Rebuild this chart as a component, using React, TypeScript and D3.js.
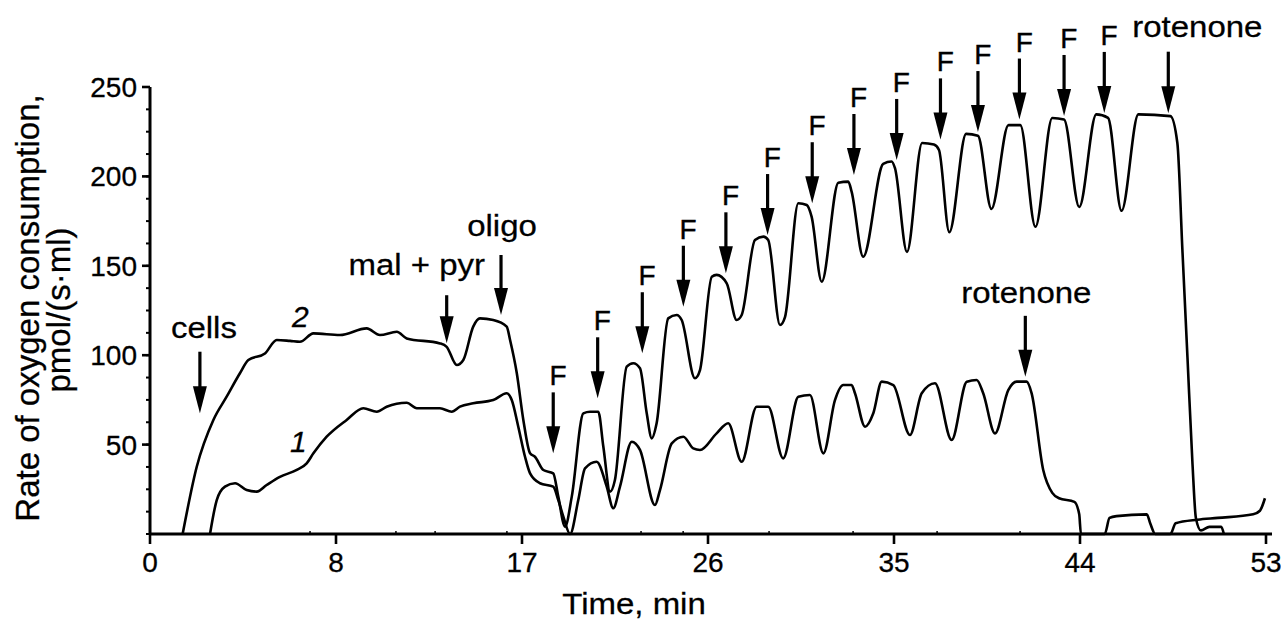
import React from "react";
import * as d3 from "d3";

// ---------- data ----------
const xTickLabels = ["0", "8", "17", "26", "35", "44", "53"];
const xMinorTicks = [7.6, 11.68, 13.54, 16.95, 23.32, 25.32, 29.4, 33.39, 37.38, 41.32];
const yTickValues = [50, 100, 150, 200, 250];

// trace 2 (upper) : [time, rate]
const trace2: [number, number][] = [
  [1.55, 0], [2.22, 37.6], [3.01, 63.8], [3.64, 76.8], [4.27, 89.9], [4.67, 97.3], [5.46, 101],
  [6.02, 108.5], [6.65, 108], [7.12, 107.5], [7.76, 112.2], [9.02, 111.3], [10.29, 115], [10.92, 111.3],
  [11.72, 113.1], [12.19, 109.4], [13.77, 106.6], [14.09, 104.7], [14.57, 94.5], [14.88, 97.3],
  [15.35, 116], [15.67, 120.6], [16.3, 119.7], [16.94, 116], [17.1, 108.5], [17.42, 89.9], [17.73, 63.8],
  [18.05, 45.1], [18.28, 43.2], [18.68, 35.8], [19.15, 33.9], [19.39, 20.9], [19.71, 4.1], [20.03, 20.9],
  [20.58, 67.5], [20.9, 68.4], [21.29, 68.4], [21.53, 48.8], [21.85, 23.7], [22.08, 30.2],
  [22.64, 93.6], [22.95, 95.5], [23.27, 92.7], [23.59, 67.5], [23.83, 53.5], [24.06, 61.9],
  [24.61, 120.6], [25.01, 122.5], [25.25, 119.7], [25.88, 87.1], [26.12, 91.7],
  [26.68, 143.9], [26.91, 144.9], [27.39, 140.2], [27.86, 119.7], [28.1, 122.5],
  [28.73, 164.4], [29.13, 166.3], [29.36, 164.4], [29.92, 116.9], [30.16, 121.5],
  [30.79, 185], [31.19, 184], [31.42, 177.5], [31.9, 141.1],
  [32.69, 196.5], [33.16, 197.1], [33.32, 191.5], [33.87, 155.1],
  [34.82, 207], [35.22, 208.3], [35.38, 204.6], [35.95, 157.8],
  [36.67, 218.7], [37.23, 217.8], [37.47, 214.8], [37.96, 168.8],
  [38.76, 223.8], [39.32, 222.8], [39.96, 181.8],
  [40.77, 228.7], [41.33, 228.7], [42.05, 171.8],
  [42.85, 232.7], [43.41, 231.8], [44.13, 182.9],
  [44.94, 234.7], [45.5, 232.7], [46.14, 180.8],
  [46.94, 234.7], [48.46, 233.7], [48.79, 218.7], [49.03, 158.8], [49.27, 98.9], [49.51, 39],
  [49.67, 9], [49.91, 2], [50.31, 4], [50.87, 4], [51.0, 0],
];

// trace 1 (lower) : [time, rate]
const trace1: [number, number][] = [
  [2.85, 0], [3.17, 19], [3.56, 26.5], [4.04, 28.4], [4.59, 24.6], [5.07, 23.7], [5.54, 27.4],
  [6.17, 32], [6.97, 35.8], [7.44, 39.5], [7.76, 45.1], [8.39, 54.4], [9.34, 63.8], [10.13, 70.3],
  [10.77, 68.4], [11.24, 71.2], [12.19, 73.4], [12.67, 70.3], [13.77, 70.3], [14.33, 68.4],
  [14.72, 71.2], [15.35, 73.1], [16.3, 74.9], [16.94, 78.7], [17.18, 74.9], [17.49, 60],
  [17.81, 43.2], [18.05, 33.9], [18.52, 28.4], [19.15, 26.5], [19.39, 19], [19.63, 9.7], [19.95, 0],
  [20.34, 19], [20.66, 36.7], [21.21, 40.4], [21.69, 26.5], [22.0, 14.4], [22.32, 26.5],
  [22.88, 51.6], [23.27, 47], [23.98, 16.2], [24.22, 24.6], [24.78, 50.7], [25.33, 54.4],
  [25.8, 47.9], [26.12, 47], [26.91, 56.3], [27.46, 61.9], [28.1, 40.4], [28.81, 71.2],
  [29.36, 71.2], [30.07, 42.3], [30.79, 76.8], [31.34, 77.7], [31.98, 45.1], [32.53, 74.9],
  [32.92, 83.3], [33.32, 83.3], [33.48, 78.7], [33.96, 60], [34.35, 67.5], [34.75, 85.2],
  [35.3, 83.3], [36.09, 55.4], [36.65, 78.7], [37.28, 84.3], [38.07, 52.6], [38.79, 85.2],
  [39.26, 86.1], [39.57, 78.7], [40.13, 56.3], [40.76, 80.5], [41.16, 85.2], [41.63, 85.2],
  [41.87, 78.7], [42.42, 35.8], [42.85, 23], [43.17, 20], [43.9, 18], [44.13, 11], [44.21, 0],
  [45.34, 0], [45.57, 9], [45.9, 10], [47.34, 11], [47.5, 6], [47.74, 0], [48.46, 0],
  [48.71, 6], [49.75, 8], [50.71, 9], [52.39, 11], [52.71, 13], [52.95, 20],
];

// FCCP additions: time and value at the arrow tip
const fArrowTimes = [19.15, 21.26, 23.38, 25.33, 27.35, 29.33, 31.45, 33.43, 35.46, 37.54, 39.32, 41.29, 43.41, 45.32];
const fArrowTips = [45.1, 75.9, 101.1, 127.1, 145.8, 167.2, 185, 200.8, 209.2, 220.7, 224.8, 231.8, 233.8, 235.5];

// named additions
const namedLabels = ["cells", "mal + pyr", "oligo", "rotenone", "rotenone"];
const namedTimes = [2.37, 14.09, 16.67, 41.57, 48.36];
const namedTips = [67.5, 106.7, 122.5, 87.9, 235.3];
const curveLabels = ["2", "1"];

// ---------- layout ----------
const W = 1281;
const H = 621;
const FONT = "'Liberation Sans', Arial, Helvetica, sans-serif";

const x = d3.scaleLinear().domain([0, 53]).range([150, 1266]);
const y = d3.scaleLinear().domain([0, 250]).range([534, 87]);

const line = d3
  .line<[number, number]>()
  .x((d) => x(d[0]))
  .y((d) => y(d[1]))
  .curve(d3.curveMonotoneX);

// per-label layout for named arrows: [arrow length, label dx, label gap above arrow top]
const namedLayout = [
  [61.6, 4, 14],
  [48, -30, 20],
  [60, 1, 19],
  [61, 1, 12.4],
  [61.6, 29, 15],
];

function Arrow({ cx, tipY, len }: { cx: number; tipY: number; len: number }) {
  const headH = 27;
  const headW = 7;
  return (
    <g>
      <line x1={cx} x2={cx} y1={tipY - len} y2={tipY - headH + 2} stroke="#000" strokeWidth={3.2} />
      <path d={`M${cx - headW},${tipY - headH} L${cx + headW},${tipY - headH} L${cx},${tipY} Z`} fill="#000" />
    </g>
  );
}

function Word({ tx, ty, text }: { tx: number; ty: number; text: string }) {
  return (
    <text
      transform={`translate(${tx},${ty}) scale(1,0.88)`}
      textAnchor="middle"
      fontFamily={FONT}
      fontSize={33}
      fill="#000"
      stroke="#000"
      strokeWidth={0.3}
    >
      {text}
    </text>
  );
}

export default function App() {
  const majorTicks = xTickLabels.map((_, i) => (i * 53) / (xTickLabels.length - 1));
  const yMinor = d3.range(0, 250.001, 12.5);
  return (
    <div style={{ position: "fixed", left: 0, top: 0 }}>
      <svg width={W} height={H} viewBox={`0 0 ${W} ${H}`} style={{ display: "block", background: "#fff" }}>
        <rect x={0} y={0} width={W} height={H} fill="#fff" />

        {/* traces */}
        <path d={line(trace2) || ""} fill="none" stroke="#000" strokeWidth={2.6} strokeLinejoin="round" />
        <path d={line(trace1) || ""} fill="none" stroke="#000" strokeWidth={2.6} strokeLinejoin="round" />

        {/* axes */}
        <line x1={x(0)} x2={1272} y1={y(0)} y2={y(0)} stroke="#000" strokeWidth={3} />
        <line x1={x(0)} x2={x(0)} y1={y(0)} y2={y(250)} stroke="#000" strokeWidth={3} />
        {majorTicks.map((t, i) => (
          <g key={"xt" + i}>
            <line x1={x(t)} x2={x(t)} y1={y(0)} y2={y(0) + 10} stroke="#000" strokeWidth={2.6} />
            <text x={x(t)} y={y(0) + 38} textAnchor="middle" fontFamily={FONT} fontSize={28} fill="#000" stroke="#000" strokeWidth={0.3}>
              {xTickLabels[i]}
            </text>
          </g>
        ))}
        {xMinorTicks.map((t, i) => (
          <line key={"xm" + i} x1={x(t)} x2={x(t)} y1={y(0)} y2={y(0) - 3} stroke="#000" strokeWidth={1.5} />
        ))}
        {yMinor.map((v, i) => (
          <line key={"ym" + i} x1={x(0) - 4} x2={x(0)} y1={y(v)} y2={y(v)} stroke="#000" strokeWidth={2} />
        ))}
        {yTickValues.map((v) => (
          <g key={"yt" + v}>
            <line x1={x(0) - 8} x2={x(0)} y1={y(v)} y2={y(v)} stroke="#000" strokeWidth={2.6} />
            <text x={137} y={y(v) + 10} textAnchor="end" fontFamily={FONT} fontSize={28} fill="#000" stroke="#000" strokeWidth={0.3}>
              {v}
            </text>
          </g>
        ))}

        {/* axis titles */}
        <Word tx={634} ty={614} text="Time, min" />
        <g fontFamily={FONT} fontSize={33} fill="#000" stroke="#000" strokeWidth={0.3} textAnchor="middle">
          <text transform="translate(38.5,308) rotate(-90)">Rate of oxygen consumption,</text>
          <text transform="translate(70,310) rotate(-90)">pmol/(s·ml)</text>
        </g>

        {/* curve numbers */}
        <text x={292} y={326.7} fontFamily={FONT} fontSize={30} fontStyle="italic" fill="#000" stroke="#000" strokeWidth={0.3}>
          {curveLabels[0]}
        </text>
        <text x={290} y={451.7} fontFamily={FONT} fontSize={30} fontStyle="italic" fill="#000" stroke="#000" strokeWidth={0.3}>
          {curveLabels[1]}
        </text>

        {/* F arrows */}
        {fArrowTimes.map((t, i) => {
          const cx = x(t);
          const tipY = y(fArrowTips[i]);
          const len = 61;
          return (
            <g key={"f" + i}>
              <Arrow cx={cx} tipY={tipY} len={len} />
              <text x={cx - 3.8} y={tipY - len - 7} fontFamily={FONT} fontSize={28} fill="#000" stroke="#000" strokeWidth={0.4}>
                F
              </text>
            </g>
          );
        })}

        {/* named arrows */}
        {namedLabels.map((lab, i) => {
          const cx = x(namedTimes[i]);
          const tipY = y(namedTips[i]);
          const [len, dx, gap] = namedLayout[i];
          return (
            <g key={"n" + i}>
              <Arrow cx={cx} tipY={tipY} len={len} />
              <Word tx={cx + dx} ty={tipY - len - gap} text={lab} />
            </g>
          );
        })}
      </svg>
    </div>
  );
}
